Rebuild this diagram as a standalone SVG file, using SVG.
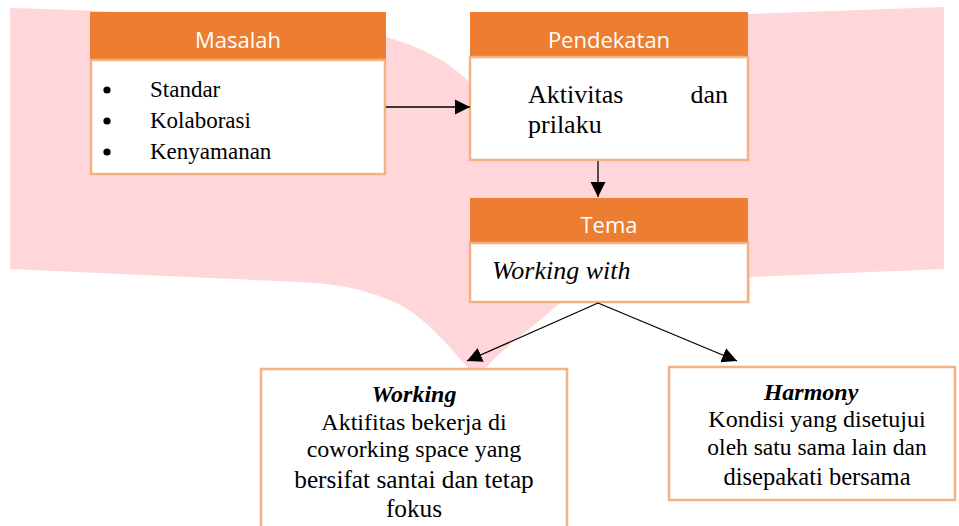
<svg xmlns="http://www.w3.org/2000/svg" width="959" height="526" viewBox="0 0 959 526">
<style>
.hdr{fill:#ED7D31}
.body{fill:#FFFFFF;stroke:#F4B183;stroke-width:2.5}
.ht{font-family:'Open Sans','Noto Sans',sans-serif;font-size:22px;fill:#FFFFFF;text-anchor:middle}
.tx{font-family:'Liberation Serif','DejaVu Serif',serif;fill:#000000}
.c{text-anchor:middle}
.conn{stroke:#000000;stroke-width:1.3;fill:none}
</style>
<defs>
<marker id="ah" markerUnits="userSpaceOnUse" markerWidth="16" markerHeight="16" viewBox="0 0 16 16" refX="15" refY="8" orient="auto">
<path d="M0,0.5 L15,8 L0,15.5 Z" fill="#000000"/>
</marker>
</defs>
<path id="bg" d="M10,8 C200,13 330,25 386,37 C420,46 450,62 470,83 L470,12 L748,14 L944,7 L944,269 L750,277 L750,303 L560,303 C530,330 500,350 484,370 L468,368 C440,335 420,315 400,305 C370,290 340,284 300,282 L10,269 Z" fill="#FFD7DB"/>
<g id="masalah">
<rect class="hdr" x="90" y="12" width="296" height="48"/>
<text class="ht" x="238" y="48">Masalah</text>
<rect class="body" x="91" y="60" width="294" height="114"/>
<circle cx="107" cy="90" r="3.6" fill="#000000"/>
<circle cx="107" cy="121" r="3.6" fill="#000000"/>
<circle cx="107" cy="152" r="3.6" fill="#000000"/>
<text class="tx" font-family="Liberation Serif, serif" x="150" y="97" font-size="23">Standar</text>
<text class="tx" font-family="Liberation Serif, serif" x="150" y="128" font-size="23">Kolaborasi</text>
<text class="tx" font-family="Liberation Serif, serif" x="150" y="159" font-size="23">Kenyamanan</text>
</g>
<g id="pendekatan">
<rect class="hdr" x="470" y="12" width="278" height="45"/>
<text class="ht" x="609" y="48">Pendekatan</text>
<rect class="body" x="470" y="57" width="278" height="103"/>
<text class="tx" font-family="Liberation Serif, serif" x="528" y="103" font-size="26">Aktivitas</text>
<text class="tx" font-family="Liberation Serif, serif" x="728" y="103" font-size="26" text-anchor="end">dan</text>
<text class="tx" font-family="Liberation Serif, serif" x="528" y="133" font-size="26">prilaku</text>
</g>
<g id="tema">
<rect class="hdr" x="470" y="198" width="278" height="45"/>
<text class="ht" x="609" y="233">Tema</text>
<rect class="body" x="470" y="243" width="278" height="59"/>
<text class="tx" font-family="Liberation Serif, serif" x="492" y="279" font-size="26" font-style="italic">Working with</text>
</g>
<g id="working" font-family="Liberation Serif, serif">
<rect class="body" x="261" y="369" width="306" height="170"/>
<text class="tx c" x="414" y="402" font-size="24" font-weight="bold" font-style="italic">Working</text>
<text class="tx c" x="414" y="430" font-size="24">Aktifitas bekerja di</text>
<text class="tx c" x="414" y="457" font-size="24">coworking space yang</text>
<text class="tx c" x="414" y="488" font-size="25.3">bersifat santai dan tetap</text>
<text class="tx c" x="414" y="517" font-size="25.3">fokus</text>
</g>
<g id="harmony" font-family="Liberation Serif, serif">
<rect class="body" x="669" y="367" width="286" height="133"/>
<text class="tx c" x="811" y="400" font-size="24" font-weight="bold" font-style="italic">Harmony</text>
<text class="tx c" x="817" y="427" font-size="24">Kondisi yang disetujui</text>
<text class="tx c" x="817" y="455" font-size="23.5">oleh satu sama lain dan</text>
<text class="tx c" x="817" y="485" font-size="24.5">disepakati bersama</text>
</g>
<g id="connectors">
<line class="conn" x1="386" y1="107" x2="470" y2="107" marker-end="url(#ah)"/>
<line class="conn" x1="598" y1="161" x2="598" y2="197" marker-end="url(#ah)"/>
<line class="conn" x1="598" y1="303" x2="467" y2="361" marker-end="url(#ah)"/>
<line class="conn" x1="598" y1="303" x2="737" y2="361" marker-end="url(#ah)"/>
</g>
</svg>
